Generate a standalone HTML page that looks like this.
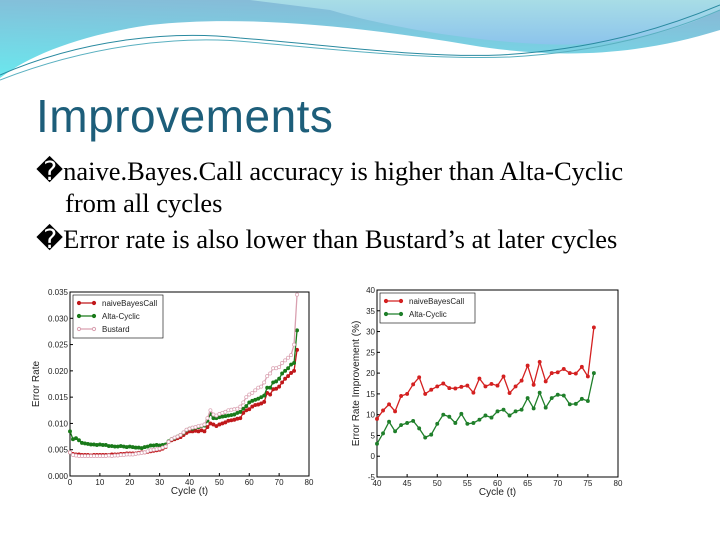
<!DOCTYPE html>
<html><head><meta charset="utf-8"><style>
body{margin:0;width:720px;height:540px;overflow:hidden;background:#fff;font-family:"Liberation Sans",sans-serif;position:relative}
.t{position:absolute;white-space:nowrap}
</style></head><body>
<svg width="720" height="90" style="position:absolute;left:0;top:0">
<defs><linearGradient id="g1" x1="0" y1="1" x2="0.3" y2="0"><stop offset="0" stop-color="#6ae8ee"/><stop offset="1" stop-color="#86bcd8"/></linearGradient>
<linearGradient id="g2" x1="0" y1="0" x2="0" y2="1"><stop offset="0" stop-color="#a8dde6"/><stop offset="1" stop-color="#8cc4ec"/></linearGradient></defs>
<path d="M0,0 H720 V30 C640,55 560,60 470,45 C350,25 240,15 150,25 C80,35 30,55 0,78 Z" fill="url(#g1)"/>
<path d="M250,0 H720 V10 C680,30 620,48 540,44 C460,40 380,25 330,10 Z" fill="url(#g2)"/>
<path d="M0,75 C80,40 170,30 240,38 C330,45 420,58 500,55 C590,50 660,30 720,5" fill="none" stroke="#2a8aa0" stroke-width="1"/>
<path d="M0,80 C90,45 180,35 250,42 C340,50 430,60 510,57 C600,52 670,32 720,10" fill="none" stroke="#5ab0c0" stroke-width="1"/>
</svg>
<div class="t" style="left:36px;top:89px;font-size:46px;letter-spacing:0.5px;color:#1d5e7a">Improvements</div>
<div class="t" style="left:36px;top:155px;font-size:26.5px;font-family:'Liberation Serif',serif;line-height:32px">�naive.Bayes.Call accuracy is higher than Alta-Cyclic<br><span style="padding-left:29px">from all cycles</span></div>
<div class="t" style="left:36px;top:224px;font-size:26.5px;font-family:'Liberation Serif',serif">�Error rate is also lower than Bustard’s at later cycles</div>
<svg id="c1" width="300" height="222" style="position:absolute;left:26px;top:280px"></svg>
<svg id="c2" width="290" height="222" style="position:absolute;left:340px;top:280px"></svg>
<script>
const naive1=[.0045,.0042,.0041,.0041,.0040,.0040,.0040,.0039,.0040,.0040,.0040,.0040,.0040,.0040,.0041,.0041,.0041,.0042,.0042,.0043,.0043,.0043,.0043,.0044,.0045,.0045,.0046,.0047,.0048,.0049,.0050,.0052,.0055,.0065,.0068,.0070,.0072,.0074,.0078,.0082,.0085,.0085,.0086,.0085,.0087,.0085,.0093,.0100,.0098,.0095,.0098,.0100,.0102,.0105,.0106,.0107,.0109,.0110,.0120,.0125,.0127,.0132,.0135,.0136,.0138,.0141,.0158,.0155,.0165,.0166,.0170,.0178,.0185,.0190,.0196,.0200,.0240];
const alta1=[.0085,.0070,.0072,.0068,.0063,.0062,.0061,.0060,.0060,.0059,.0060,.0059,.0059,.0057,.0057,.0056,.0056,.0057,.0056,.0055,.0056,.0055,.0054,.0054,.0053,.0055,.0056,.0058,.0058,.0059,.0058,.0059,.0060,.0066,.0070,.0072,.0075,.0078,.0082,.0087,.0090,.0090,.0092,.0093,.0095,.0096,.0105,.0118,.0110,.0110,.0112,.0113,.0114,.0115,.0116,.0117,.0120,.0122,.0128,.0133,.0140,.0143,.0145,.0147,.0150,.0153,.0168,.0168,.0178,.0180,.0185,.0195,.0200,.0205,.0212,.0215,.0277];
const bustard1=[.0045,.0040,.0039,.0038,.0038,.0038,.0038,.0038,.0038,.0038,.0038,.0038,.0038,.0039,.0038,.0039,.0039,.0040,.0040,.0041,.0041,.0041,.0042,.0043,.0044,.0045,.0047,.0049,.0050,.0051,.0052,.0054,.0056,.0065,.0070,.0073,.0075,.0078,.0083,.0088,.0090,.0092,.0093,.0095,.0096,.0098,.0110,.0125,.0117,.0115,.0118,.0120,.0122,.0125,.0126,.0127,.0128,.0132,.0140,.0150,.0155,.0158,.0163,.0168,.0170,.0178,.0190,.0195,.0205,.0205,.0207,.0215,.0220,.0225,.0230,.0250,.0345];
const yTicks1=[0,0.005,0.010,0.015,0.020,0.025,0.030,0.035];
const xTicks1=[0,10,20,30,40,50,60,70,80];
const naive2=[9,11,12.5,10.8,14.5,15,17.3,19,15,16,16.8,17.5,16.4,16.3,16.7,17,15.3,18.7,16.8,17.4,17,19.2,15.2,16.8,18.2,21.8,17.2,22.7,18,20,20.2,21,20,19.9,21.5,19.2,31];
const alta2=[3,5.5,8.3,6,7.5,8,8.5,6.7,4.5,5.2,7.8,10,9.5,8,10.2,7.8,8,8.8,9.8,9.3,10.8,11.2,9.8,10.8,11.2,14,11.5,15.3,11.7,14,14.8,14.6,12.5,12.6,13.8,13.3,20];
const yTicks2=[-5,0,5,10,15,20,25,30,35,40];
const xTicks2=[40,45,50,55,60,65,70,75,80];
const NS='http://www.w3.org/2000/svg';
function mk(p,tag,a,txt){const e=document.createElementNS(NS,tag);for(const k in a)e.setAttribute(k,a[k]);if(txt!==undefined)e.textContent=txt;p.appendChild(e);return e;}
function chart(svg,o){
 const X=v=>o.x0+(v-o.xmin)/(o.xmax-o.xmin)*(o.x1-o.x0);
 const Y=v=>o.y1-(v-o.ymin)/(o.ymax-o.ymin)*(o.y1-o.y0);
 const fr=mk(svg,'rect',{x:o.x0,y:o.y0,width:o.x1-o.x0,height:o.y1-o.y0,fill:'#fff',stroke:'#000','stroke-width':1});
 
 
 o.yt.forEach(v=>{const t=mk(svg,'text',{x:o.x0-2,y:Y(v)+3,'font-size':8,'text-anchor':'end',fill:'#222'},o.yfmt(v));
  
  
  mk(svg,'line',{x1:o.x0,x2:o.x0+3,y1:Y(v),y2:Y(v),stroke:'#000'});});
 o.xt.forEach(v=>{const t=mk(svg,'text',{x:X(v),y:o.y1+9,'font-size':8,'text-anchor':'middle',fill:'#222'},String(v));
  
  
  mk(svg,'line',{x1:X(v),x2:X(v),y1:o.y1,y2:o.y1-3,stroke:'#000'});});
 const xl=mk(svg,'text',{x:(o.x0+o.x1)/2,y:o.y1+18,'font-size':10,'text-anchor':'middle',fill:'#222'},'Cycle (t)');
 
 
 const yl=mk(svg,'text',{x:0,y:0,'font-size':10,'text-anchor':'middle',fill:'#222',transform:`translate(${o.ylx},${(o.y0+o.y1)/2}) rotate(-90)`},o.ytitle);
 
 
 o.series.forEach(s=>{
  const pts=s.data.map((v,i)=>[X(o.xstart+i),Y(v)]);
  const pl=mk(svg,'polyline',{points:pts.map(p=>p.join(',')).join(' '),fill:'none',stroke:s.c,'stroke-width':1.3});
  
  
  pts.forEach(p=>{const m=mk(svg,'circle',{cx:p[0],cy:p[1],r:1.6,fill:s.open?'#fff':s.c,stroke:s.c,'stroke-width':0.7});
   
   });
 });
 const lg=mk(svg,'g',{});
 
 
 mk(lg,'rect',{x:o.x0+3,y:o.y0+3,width:o.lw,height:o.series.length*13+4,fill:'#fff',stroke:'#000','stroke-width':0.6});
 o.series.forEach((s,i)=>{const yy=o.y0+11+i*13;
  mk(lg,'line',{x1:o.x0+7,x2:o.x0+26,y1:yy,y2:yy,stroke:s.c,'stroke-width':1.3});
  mk(lg,'circle',{cx:o.x0+9,cy:yy,r:1.6,fill:s.open?'#fff':s.c,stroke:s.c});
  mk(lg,'circle',{cx:o.x0+24,cy:yy,r:1.6,fill:s.open?'#fff':s.c,stroke:s.c});
  const t=mk(lg,'text',{x:o.x0+32,y:yy+3,'font-size':8,fill:'#222'},s.label);
  
  });
}
chart(document.getElementById('c1'),{x0:44,x1:283,y0:12,y1:196,xmin:0,xmax:80,ymin:0,ymax:0.035,xstart:0,yt:yTicks1,xt:xTicks1,yfmt:v=>v.toFixed(3),ytitle:'Error Rate',ylx:13,lw:90,
 series:[{name:'naive-bayes-call',label:'naiveBayesCall',data:naive1,c:'#c0181b'},{name:'alta-cyclic',label:'Alta-Cyclic',data:alta1,c:'#1a7a1a'},{name:'bustard',label:'Bustard',data:bustard1,c:'#d9a0b0',open:true}]});
chart(document.getElementById('c2'),{x0:37,x1:278,y0:10,y1:197,xmin:40,xmax:80,ymin:-5,ymax:40,xstart:40,yt:yTicks2,xt:xTicks2,yfmt:v=>String(v),ytitle:'Error Rate Improvement (%)',ylx:19,lw:95,
 series:[{name:'naive-bayes-call',label:'naiveBayesCall',data:naive2,c:'#d42020'},{name:'alta-cyclic',label:'Alta-Cyclic',data:alta2,c:'#1f7f2a'}]});
</script>
</body></html>
